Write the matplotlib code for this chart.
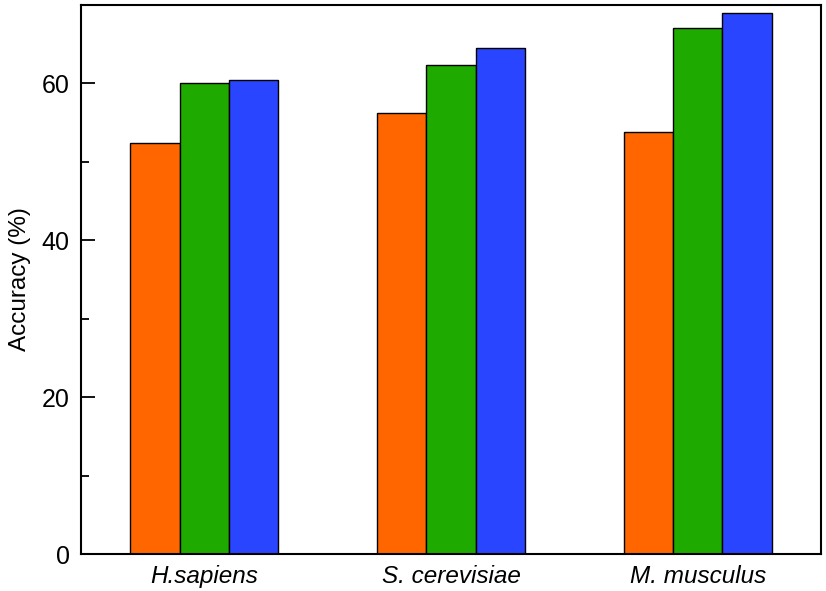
import matplotlib
matplotlib.use("Agg")
import matplotlib.pyplot as plt
import numpy as np
from matplotlib.ticker import FixedLocator

categories = ["H.sapiens", "S. cerevisiae", "M. musculus"]
series_a = [52.4, 56.2, 53.8]
series_b = [60.0, 62.3, 67.1]
series_c = [60.4, 64.5, 69.0]
colors = ["#FF6600", "#1FAA00", "#2A45FF"]
major_ticks = [0, 20, 40, 60]
minor_ticks = [10, 30, 50]

plt.rcParams['font.family'] = ['Liberation Sans', 'DejaVu Sans']

fig = plt.figure(figsize=(8.26, 5.91), dpi=100)
ax = fig.add_axes([0.098, 0.0626, 0.896, 0.929])

x = np.arange(len(categories))
w = 0.2
for i, (vals, c) in enumerate(zip([series_a, series_b, series_c], colors)):
    ax.bar(x + (i - 1) * w, vals, width=w, color=c, edgecolor="black", linewidth=1.0)

ax.set_xlim(-0.5, 2.5)
ax.set_ylim(0, 70)
ax.set_xticks(x)
ax.set_xticklabels(categories, style="italic", fontsize=17.5)
ax.tick_params(axis="x", length=0, pad=8)
ax.yaxis.set_major_locator(FixedLocator(major_ticks))
ax.yaxis.set_minor_locator(FixedLocator(minor_ticks))
ax.tick_params(axis="y", which="major", direction="in", length=10, width=1.3, labelsize=18, pad=8)
ax.tick_params(axis="y", which="minor", direction="in", length=6, width=1.3)
ax.set_ylabel("Accuracy (%)", fontsize=17.5, labelpad=8)
for s in ax.spines.values():
    s.set_linewidth(1.5)

fig.savefig("out.png", dpi=100)
